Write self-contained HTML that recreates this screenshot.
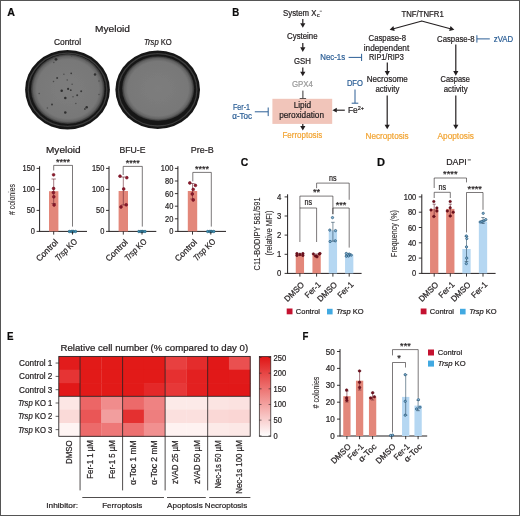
<!DOCTYPE html>
<html><head><meta charset="utf-8"><title>Figure</title>
<style>
html,body{margin:0;padding:0;background:#fff;}
svg{display:block;will-change:transform;font-family:"Liberation Sans",sans-serif;fill:#231F20;}
text{stroke-width:0.22px;stroke:#231F20;}
text[fill="#2C5F96"]{stroke:#2C5F96}text[fill="#F2A535"]{stroke:#F2A535}text[fill="#9A9A9A"]{stroke:#9A9A9A}
</style></head><body>
<svg width="520" height="516" viewBox="0 0 520 516">
<rect x="0.5" y="0.5" width="519" height="515" fill="#fff" stroke="#555" stroke-width="1"/>
<text x="7.30" y="16.00" font-size="10.9" fill="#0A0A0A" textLength="7.70" lengthAdjust="spacingAndGlyphs" font-weight="bold">A</text>
<text x="112.50" y="32.00" font-size="9.5" text-anchor="middle" textLength="35.00" lengthAdjust="spacingAndGlyphs">Myeloid</text>
<text x="67.50" y="44.80" font-size="8.8" text-anchor="middle" textLength="27.00" lengthAdjust="spacingAndGlyphs">Control</text>
<text x="157.9" y="44.8" font-size="8.8" text-anchor="middle" textLength="27.8" lengthAdjust="spacingAndGlyphs"><tspan font-style="italic">Trsp</tspan> KO</text>
<defs>
<radialGradient id="dg" cx="50%" cy="50%" r="50%"><stop offset="0" stop-color="#7d7d7d"/><stop offset="0.84" stop-color="#787878"/><stop offset="0.93" stop-color="#646464"/><stop offset="1" stop-color="#303030"/></radialGradient>
<filter id="bl" x="-10%" y="-10%" width="120%" height="120%"><feGaussianBlur stdDeviation="0.45"/></filter>
</defs>
<g filter="url(#bl)">
<ellipse cx="67.5" cy="89.8" rx="42.4" ry="39.7" fill="#171717"/>
<ellipse cx="67.5" cy="89.8" rx="39.3" ry="36.6" fill="none" stroke="#3c3c3c" stroke-width="1.3"/>
<ellipse cx="67.8" cy="89.0" rx="36.9" ry="35.0" fill="url(#dg)"/>
<circle cx="56" cy="59.3" r="1.38" fill="#2a2a2a"/>
<circle cx="71.6" cy="56" r="0.75" fill="#4c4c4c"/>
<circle cx="53.8" cy="62.4" r="0.75" fill="#4c4c4c"/>
<circle cx="86.7" cy="60.5" r="0.75" fill="#4c4c4c"/>
<circle cx="95" cy="74.6" r="1.25" fill="#333"/>
<circle cx="99" cy="81" r="0.75" fill="#4c4c4c"/>
<circle cx="71.2" cy="73.3" r="0.88" fill="#3a3a3a"/>
<circle cx="63.9" cy="74.3" r="0.75" fill="#4c4c4c"/>
<circle cx="57.1" cy="77.9" r="1.0" fill="#3a3a3a"/>
<circle cx="53.5" cy="81.6" r="0.75" fill="#4c4c4c"/>
<circle cx="67.2" cy="80.1" r="0.75" fill="#4c4c4c"/>
<circle cx="72.1" cy="84.3" r="0.75" fill="#4c4c4c"/>
<circle cx="61.7" cy="90.7" r="1.25" fill="#2e2e2e"/>
<circle cx="68.1" cy="88.9" r="1.12" fill="#333"/>
<circle cx="70.8" cy="90.2" r="0.88" fill="#3a3a3a"/>
<circle cx="81.2" cy="91.3" r="1.0" fill="#3a3a3a"/>
<circle cx="77.2" cy="95.3" r="1.0" fill="#3a3a3a"/>
<circle cx="73" cy="96.7" r="0.75" fill="#4c4c4c"/>
<circle cx="65.3" cy="98" r="1.25" fill="#2e2e2e"/>
<circle cx="39.2" cy="93.4" r="0.75" fill="#4c4c4c"/>
<circle cx="99" cy="94.4" r="0.75" fill="#4c4c4c"/>
<circle cx="52" cy="104.4" r="1.0" fill="#3a3a3a"/>
<circle cx="86.7" cy="107.2" r="1.25" fill="#2e2e2e"/>
<circle cx="84.9" cy="109" r="0.88" fill="#3a3a3a"/>
<circle cx="65.3" cy="112.6" r="1.25" fill="#2e2e2e"/>
<circle cx="47.4" cy="108" r="0.75" fill="#4c4c4c"/>
<circle cx="75.8" cy="103.5" r="0.75" fill="#4c4c4c"/>
</g>
<g filter="url(#bl)">
<ellipse cx="157.7" cy="89.8" rx="42.3" ry="39.3" fill="#171717"/>
<ellipse cx="157.7" cy="89.8" rx="39.199999999999996" ry="36.199999999999996" fill="none" stroke="#3c3c3c" stroke-width="1.3"/>
<ellipse cx="158.1" cy="88.6" rx="36.1" ry="32.4" fill="url(#dg)"/>
</g>
<text x="63.30" y="152.80" font-size="9.3" text-anchor="middle" textLength="34.60" lengthAdjust="spacingAndGlyphs">Myeloid</text>
<line x1="39.60" y1="166.20" x2="39.60" y2="231.90" stroke="#231F20" stroke-width="1.0"/>
<line x1="39.60" y1="231.40" x2="87.00" y2="231.40" stroke="#231F20" stroke-width="1.0"/>
<line x1="36.60" y1="168.40" x2="39.60" y2="168.40" stroke="#231F20" stroke-width="0.9"/>
<text x="35.00" y="171.45" font-size="8.6" text-anchor="end" textLength="12.45" lengthAdjust="spacingAndGlyphs">150</text>
<line x1="36.60" y1="189.40" x2="39.60" y2="189.40" stroke="#231F20" stroke-width="0.9"/>
<text x="35.00" y="192.45" font-size="8.6" text-anchor="end" textLength="12.45" lengthAdjust="spacingAndGlyphs">100</text>
<line x1="36.60" y1="210.40" x2="39.60" y2="210.40" stroke="#231F20" stroke-width="0.9"/>
<text x="35.00" y="213.45" font-size="8.6" text-anchor="end" textLength="8.30" lengthAdjust="spacingAndGlyphs">50</text>
<line x1="36.60" y1="231.40" x2="39.60" y2="231.40" stroke="#231F20" stroke-width="0.9"/>
<text x="35.00" y="234.45" font-size="8.6" text-anchor="end" textLength="4.15" lengthAdjust="spacingAndGlyphs">0</text>
<rect x="49.00" y="191.20" width="9.40" height="40.20" fill="#E3877A"/>
<line x1="53.70" y1="179.00" x2="53.70" y2="203.50" stroke="#6A2530" stroke-width="0.6"/>
<line x1="51.50" y1="179.00" x2="55.90" y2="179.00" stroke="#6A2530" stroke-width="0.6"/>
<line x1="51.50" y1="203.50" x2="55.90" y2="203.50" stroke="#6A2530" stroke-width="0.6"/>
<circle cx="53.60" cy="174.80" r="1.4" fill="#8E1A2C" stroke="#6E0F20" stroke-width="0.6"/>
<circle cx="53.60" cy="188.50" r="1.4" fill="#8E1A2C" stroke="#6E0F20" stroke-width="0.6"/>
<circle cx="53.40" cy="192.60" r="1.4" fill="#8E1A2C" stroke="#6E0F20" stroke-width="0.6"/>
<circle cx="53.80" cy="196.80" r="1.4" fill="#8E1A2C" stroke="#6E0F20" stroke-width="0.6"/>
<circle cx="54.10" cy="205.00" r="1.4" fill="#8E1A2C" stroke="#6E0F20" stroke-width="0.6"/>
<circle cx="69.40" cy="231.50" r="1.25" fill="#3E94BA" stroke="#1F566F" stroke-width="0.6"/>
<circle cx="71.40" cy="231.50" r="1.25" fill="#3E94BA" stroke="#1F566F" stroke-width="0.6"/>
<circle cx="73.40" cy="231.50" r="1.25" fill="#3E94BA" stroke="#1F566F" stroke-width="0.6"/>
<circle cx="75.50" cy="231.50" r="1.25" fill="#3E94BA" stroke="#1F566F" stroke-width="0.6"/>
<circle cx="72.50" cy="231.50" r="1.25" fill="#3E94BA" stroke="#1F566F" stroke-width="0.6"/>
<line x1="53.70" y1="231.40" x2="53.70" y2="234.60" stroke="#231F20" stroke-width="0.9"/>
<line x1="72.50" y1="231.40" x2="72.50" y2="234.60" stroke="#231F20" stroke-width="0.9"/>
<path d="M53.70,170.50 V165.40 H72.50 V226.60" stroke="#231F20" stroke-width="0.6" fill="none"/>
<text x="63.10" y="164.60" font-size="9.5" text-anchor="middle" textLength="14.00" lengthAdjust="spacingAndGlyphs">****</text>
<text x="58.70" y="242.80" font-size="8.6" text-anchor="end" textLength="27.20" lengthAdjust="spacingAndGlyphs" transform="rotate(-45 58.70 242.80)">Control</text>
<text x="77.80" y="242.00" font-size="8.6" text-anchor="end" transform="rotate(-45 77.80 242.00)" textLength="27.4" lengthAdjust="spacingAndGlyphs"><tspan font-style="italic">Trsp</tspan> KO</text>
<text x="132.50" y="152.80" font-size="9.3" text-anchor="middle" textLength="26.00" lengthAdjust="spacingAndGlyphs">BFU-E</text>
<line x1="109.00" y1="166.20" x2="109.00" y2="231.90" stroke="#231F20" stroke-width="1.0"/>
<line x1="109.00" y1="231.40" x2="156.30" y2="231.40" stroke="#231F20" stroke-width="1.0"/>
<line x1="106.00" y1="168.40" x2="109.00" y2="168.40" stroke="#231F20" stroke-width="0.9"/>
<text x="104.40" y="171.45" font-size="8.6" text-anchor="end" textLength="12.45" lengthAdjust="spacingAndGlyphs">150</text>
<line x1="106.00" y1="189.40" x2="109.00" y2="189.40" stroke="#231F20" stroke-width="0.9"/>
<text x="104.40" y="192.45" font-size="8.6" text-anchor="end" textLength="12.45" lengthAdjust="spacingAndGlyphs">100</text>
<line x1="106.00" y1="210.40" x2="109.00" y2="210.40" stroke="#231F20" stroke-width="0.9"/>
<text x="104.40" y="213.45" font-size="8.6" text-anchor="end" textLength="8.30" lengthAdjust="spacingAndGlyphs">50</text>
<line x1="106.00" y1="231.40" x2="109.00" y2="231.40" stroke="#231F20" stroke-width="0.9"/>
<text x="104.40" y="234.45" font-size="8.6" text-anchor="end" textLength="4.15" lengthAdjust="spacingAndGlyphs">0</text>
<rect x="118.60" y="191.00" width="9.40" height="40.40" fill="#E3877A"/>
<line x1="123.30" y1="177.00" x2="123.30" y2="205.00" stroke="#6A2530" stroke-width="0.6"/>
<line x1="121.10" y1="177.00" x2="125.50" y2="177.00" stroke="#6A2530" stroke-width="0.6"/>
<line x1="121.10" y1="205.00" x2="125.50" y2="205.00" stroke="#6A2530" stroke-width="0.6"/>
<circle cx="120.00" cy="176.20" r="1.4" fill="#8E1A2C" stroke="#6E0F20" stroke-width="0.6"/>
<circle cx="126.80" cy="177.70" r="1.4" fill="#8E1A2C" stroke="#6E0F20" stroke-width="0.6"/>
<circle cx="123.70" cy="189.00" r="1.4" fill="#8E1A2C" stroke="#6E0F20" stroke-width="0.6"/>
<circle cx="121.00" cy="207.00" r="1.4" fill="#8E1A2C" stroke="#6E0F20" stroke-width="0.6"/>
<circle cx="126.20" cy="204.80" r="1.4" fill="#8E1A2C" stroke="#6E0F20" stroke-width="0.6"/>
<circle cx="138.90" cy="231.50" r="1.25" fill="#3E94BA" stroke="#1F566F" stroke-width="0.6"/>
<circle cx="140.90" cy="231.50" r="1.25" fill="#3E94BA" stroke="#1F566F" stroke-width="0.6"/>
<circle cx="142.90" cy="231.50" r="1.25" fill="#3E94BA" stroke="#1F566F" stroke-width="0.6"/>
<circle cx="145.00" cy="231.50" r="1.25" fill="#3E94BA" stroke="#1F566F" stroke-width="0.6"/>
<circle cx="142.00" cy="231.50" r="1.25" fill="#3E94BA" stroke="#1F566F" stroke-width="0.6"/>
<line x1="123.30" y1="231.40" x2="123.30" y2="234.60" stroke="#231F20" stroke-width="0.9"/>
<line x1="142.00" y1="231.40" x2="142.00" y2="234.60" stroke="#231F20" stroke-width="0.9"/>
<path d="M123.20,175.00 V166.40 H142.30 V226.60" stroke="#231F20" stroke-width="0.6" fill="none"/>
<text x="132.75" y="165.60" font-size="9.5" text-anchor="middle" textLength="14.00" lengthAdjust="spacingAndGlyphs">****</text>
<text x="128.30" y="242.80" font-size="8.6" text-anchor="end" textLength="27.20" lengthAdjust="spacingAndGlyphs" transform="rotate(-45 128.30 242.80)">Control</text>
<text x="147.30" y="242.00" font-size="8.6" text-anchor="end" transform="rotate(-45 147.30 242.00)" textLength="27.4" lengthAdjust="spacingAndGlyphs"><tspan font-style="italic">Trsp</tspan> KO</text>
<text x="202.30" y="152.80" font-size="9.3" text-anchor="middle" textLength="23.00" lengthAdjust="spacingAndGlyphs">Pre-B</text>
<line x1="177.90" y1="166.20" x2="177.90" y2="231.90" stroke="#231F20" stroke-width="1.0"/>
<line x1="177.90" y1="231.40" x2="226.00" y2="231.40" stroke="#231F20" stroke-width="1.0"/>
<line x1="174.90" y1="168.40" x2="177.90" y2="168.40" stroke="#231F20" stroke-width="0.9"/>
<text x="173.30" y="171.45" font-size="8.6" text-anchor="end" textLength="12.45" lengthAdjust="spacingAndGlyphs">100</text>
<line x1="174.90" y1="181.00" x2="177.90" y2="181.00" stroke="#231F20" stroke-width="0.9"/>
<text x="173.30" y="184.05" font-size="8.6" text-anchor="end" textLength="8.30" lengthAdjust="spacingAndGlyphs">80</text>
<line x1="174.90" y1="193.60" x2="177.90" y2="193.60" stroke="#231F20" stroke-width="0.9"/>
<text x="173.30" y="196.65" font-size="8.6" text-anchor="end" textLength="8.30" lengthAdjust="spacingAndGlyphs">60</text>
<line x1="174.90" y1="206.20" x2="177.90" y2="206.20" stroke="#231F20" stroke-width="0.9"/>
<text x="173.30" y="209.25" font-size="8.6" text-anchor="end" textLength="8.30" lengthAdjust="spacingAndGlyphs">40</text>
<line x1="174.90" y1="218.80" x2="177.90" y2="218.80" stroke="#231F20" stroke-width="0.9"/>
<text x="173.30" y="221.85" font-size="8.6" text-anchor="end" textLength="8.30" lengthAdjust="spacingAndGlyphs">20</text>
<line x1="174.90" y1="231.40" x2="177.90" y2="231.40" stroke="#231F20" stroke-width="0.9"/>
<text x="173.30" y="234.45" font-size="8.6" text-anchor="end" textLength="4.15" lengthAdjust="spacingAndGlyphs">0</text>
<rect x="187.80" y="191.00" width="9.40" height="40.40" fill="#E3877A"/>
<line x1="192.50" y1="183.50" x2="192.50" y2="199.00" stroke="#6A2530" stroke-width="0.6"/>
<line x1="190.30" y1="183.50" x2="194.70" y2="183.50" stroke="#6A2530" stroke-width="0.6"/>
<line x1="190.30" y1="199.00" x2="194.70" y2="199.00" stroke="#6A2530" stroke-width="0.6"/>
<circle cx="189.80" cy="183.00" r="1.4" fill="#8E1A2C" stroke="#6E0F20" stroke-width="0.6"/>
<circle cx="195.40" cy="185.40" r="1.4" fill="#8E1A2C" stroke="#6E0F20" stroke-width="0.6"/>
<circle cx="193.20" cy="189.40" r="1.4" fill="#8E1A2C" stroke="#6E0F20" stroke-width="0.6"/>
<circle cx="192.30" cy="194.00" r="1.4" fill="#8E1A2C" stroke="#6E0F20" stroke-width="0.6"/>
<circle cx="193.20" cy="200.00" r="1.4" fill="#8E1A2C" stroke="#6E0F20" stroke-width="0.6"/>
<circle cx="207.70" cy="231.50" r="1.25" fill="#3E94BA" stroke="#1F566F" stroke-width="0.6"/>
<circle cx="209.70" cy="231.50" r="1.25" fill="#3E94BA" stroke="#1F566F" stroke-width="0.6"/>
<circle cx="211.70" cy="231.50" r="1.25" fill="#3E94BA" stroke="#1F566F" stroke-width="0.6"/>
<circle cx="213.80" cy="231.50" r="1.25" fill="#3E94BA" stroke="#1F566F" stroke-width="0.6"/>
<circle cx="210.80" cy="231.50" r="1.25" fill="#3E94BA" stroke="#1F566F" stroke-width="0.6"/>
<line x1="192.50" y1="231.40" x2="192.50" y2="234.60" stroke="#231F20" stroke-width="0.9"/>
<line x1="210.80" y1="231.40" x2="210.80" y2="234.60" stroke="#231F20" stroke-width="0.9"/>
<path d="M192.80,181.40 V172.40 H211.30 V226.60" stroke="#231F20" stroke-width="0.6" fill="none"/>
<text x="202.05" y="171.60" font-size="9.5" text-anchor="middle" textLength="14.00" lengthAdjust="spacingAndGlyphs">****</text>
<text x="197.50" y="242.80" font-size="8.6" text-anchor="end" textLength="27.20" lengthAdjust="spacingAndGlyphs" transform="rotate(-45 197.50 242.80)">Control</text>
<text x="216.10" y="242.00" font-size="8.6" text-anchor="end" transform="rotate(-45 216.10 242.00)" textLength="27.4" lengthAdjust="spacingAndGlyphs"><tspan font-style="italic">Trsp</tspan> KO</text>
<text x="15.20" y="199.50" font-size="8.5" text-anchor="middle" fill="#2B2728" textLength="31.00" lengthAdjust="spacingAndGlyphs" transform="rotate(-90 15.20 199.50)" style="stroke:#2B2728;stroke-width:0.1px"># colonies</text>
<text x="232.20" y="16.00" font-size="10.9" fill="#0A0A0A" textLength="7.00" lengthAdjust="spacingAndGlyphs" font-weight="bold">B</text>
<text x="283.10" y="15.60" font-size="8.4" textLength="33.40" lengthAdjust="spacingAndGlyphs">System X</text>
<text x="316.90" y="17.40" font-size="5.6" textLength="2.60" lengthAdjust="spacingAndGlyphs">c</text>
<line x1="319.70" y1="11.20" x2="321.90" y2="11.20" stroke="#231F20" stroke-width="0.6"/>
<line x1="302.80" y1="18.90" x2="302.80" y2="23.70" stroke="#231F20" stroke-width="1.2"/>
<polygon points="302.80,27.80 300.20,23.20 305.40,23.20" fill="#231F20"/>
<text x="302.30" y="39.30" font-size="8.4" text-anchor="middle" textLength="30.50" lengthAdjust="spacingAndGlyphs">Cysteine</text>
<line x1="302.80" y1="43.00" x2="302.80" y2="47.80" stroke="#231F20" stroke-width="1.2"/>
<polygon points="302.80,51.90 300.20,47.30 305.40,47.30" fill="#231F20"/>
<text x="302.40" y="63.50" font-size="8.4" text-anchor="middle" textLength="16.80" lengthAdjust="spacingAndGlyphs">GSH</text>
<line x1="302.80" y1="67.40" x2="302.80" y2="72.20" stroke="#231F20" stroke-width="1.2"/>
<polygon points="302.80,76.30 300.20,71.70 305.40,71.70" fill="#231F20"/>
<text x="302.50" y="87.30" font-size="8.4" text-anchor="middle" fill="#9A9A9A" textLength="21.00" lengthAdjust="spacingAndGlyphs">GPX4</text>
<line x1="302.90" y1="90.60" x2="302.90" y2="98.50" stroke="#231F20" stroke-width="0.9"/>
<line x1="299.70" y1="98.50" x2="306.10" y2="98.50" stroke="#231F20" stroke-width="0.9"/>
<rect x="272.40" y="98.80" width="59.80" height="25.10" fill="#F1C5BA"/>
<text x="302.40" y="108.20" font-size="8.4" text-anchor="middle" textLength="17.50" lengthAdjust="spacingAndGlyphs">Lipid</text>
<text x="301.60" y="118.40" font-size="8.4" text-anchor="middle" textLength="44.80" lengthAdjust="spacingAndGlyphs">peroxidation</text>
<line x1="302.80" y1="123.90" x2="302.80" y2="126.50" stroke="#231F20" stroke-width="1.2"/>
<polygon points="302.80,130.60 300.20,126.00 305.40,126.00" fill="#231F20"/>
<text x="302.40" y="138.10" font-size="8.4" text-anchor="middle" fill="#F2A535" textLength="39.80" lengthAdjust="spacingAndGlyphs">Ferroptosis</text>
<text x="241.50" y="110.10" font-size="8.4" text-anchor="middle" fill="#2C5F96" textLength="17.00" lengthAdjust="spacingAndGlyphs">Fer-1</text>
<text x="242.20" y="119.40" font-size="8.4" text-anchor="middle" fill="#2C5F96" textLength="19.80" lengthAdjust="spacingAndGlyphs">α-Toc</text>
<line x1="254.80" y1="111.80" x2="268.20" y2="111.80" stroke="#2C5F96" stroke-width="1.0"/>
<line x1="268.20" y1="107.50" x2="268.20" y2="116.10" stroke="#2C5F96" stroke-width="1.0"/>
<text x="320.30" y="59.70" font-size="8.4" fill="#2C5F96" textLength="24.80" lengthAdjust="spacingAndGlyphs">Nec-1s</text>
<line x1="348.60" y1="57.40" x2="361.60" y2="57.40" stroke="#2C5F96" stroke-width="1.0"/>
<line x1="361.60" y1="53.80" x2="361.60" y2="61.00" stroke="#2C5F96" stroke-width="1.0"/>
<text x="354.90" y="86.20" font-size="8.4" text-anchor="middle" fill="#2C5F96" textLength="16.00" lengthAdjust="spacingAndGlyphs">DFO</text>
<line x1="355.00" y1="89.50" x2="355.00" y2="103.20" stroke="#2C5F96" stroke-width="1.0"/>
<line x1="351.70" y1="103.20" x2="358.30" y2="103.20" stroke="#2C5F96" stroke-width="1.0"/>
<text x="347.9" y="113.2" font-size="8.4">Fe<tspan font-size="5.5" dy="-3">2+</tspan></text>
<line x1="344.80" y1="110.20" x2="336.30" y2="110.20" stroke="#231F20" stroke-width="1.15"/>
<polygon points="332.40,110.20 336.80,107.80 336.80,112.60" fill="#231F20"/>
<text x="422.60" y="17.40" font-size="8.4" text-anchor="middle" textLength="42.20" lengthAdjust="spacingAndGlyphs">TNF/TNFR1</text>
<line x1="422.00" y1="21.00" x2="393.56" y2="28.73" stroke="#231F20" stroke-width="1.15"/>
<polygon points="389.60,29.80 393.36,26.09 394.72,31.10" fill="#231F20"/>
<line x1="421.60" y1="21.00" x2="450.34" y2="28.73" stroke="#231F20" stroke-width="1.15"/>
<polygon points="454.30,29.80 449.18,31.12 450.53,26.09" fill="#231F20"/>
<text x="387.30" y="41.10" font-size="8.4" text-anchor="middle" textLength="37.40" lengthAdjust="spacingAndGlyphs">Caspase-8</text>
<text x="386.50" y="50.70" font-size="8.4" text-anchor="middle" textLength="45.50" lengthAdjust="spacingAndGlyphs">independent</text>
<text x="386.40" y="59.80" font-size="8.4" text-anchor="middle" textLength="34.70" lengthAdjust="spacingAndGlyphs">RIP1/RIP3</text>
<line x1="387.30" y1="62.50" x2="387.30" y2="71.60" stroke="#231F20" stroke-width="1.2"/>
<polygon points="387.30,75.70 384.70,71.10 389.90,71.10" fill="#231F20"/>
<text x="387.30" y="82.20" font-size="8.4" text-anchor="middle" textLength="40.90" lengthAdjust="spacingAndGlyphs">Necrosome</text>
<text x="387.40" y="92.40" font-size="8.4" text-anchor="middle" textLength="24.00" lengthAdjust="spacingAndGlyphs">activity</text>
<line x1="387.20" y1="95.60" x2="387.20" y2="125.20" stroke="#231F20" stroke-width="1.2"/>
<polygon points="387.20,129.30 384.60,124.70 389.80,124.70" fill="#231F20"/>
<text x="387.10" y="138.70" font-size="8.4" text-anchor="middle" fill="#F2A535" textLength="43.10" lengthAdjust="spacingAndGlyphs">Necroptosis</text>
<text x="455.80" y="41.50" font-size="8.4" text-anchor="middle" textLength="37.50" lengthAdjust="spacingAndGlyphs">Caspase-8</text>
<line x1="489.80" y1="38.90" x2="476.90" y2="38.90" stroke="#2C5F96" stroke-width="1.0"/>
<line x1="476.90" y1="35.20" x2="476.90" y2="42.60" stroke="#2C5F96" stroke-width="1.0"/>
<text x="493.80" y="41.50" font-size="8.4" fill="#2C5F96" textLength="19.40" lengthAdjust="spacingAndGlyphs">zVAD</text>
<line x1="455.80" y1="44.60" x2="455.80" y2="71.60" stroke="#231F20" stroke-width="1.2"/>
<polygon points="455.80,75.70 453.20,71.10 458.40,71.10" fill="#231F20"/>
<text x="455.30" y="82.20" font-size="8.4" text-anchor="middle" textLength="29.40" lengthAdjust="spacingAndGlyphs">Caspase</text>
<text x="455.70" y="92.40" font-size="8.4" text-anchor="middle" textLength="24.00" lengthAdjust="spacingAndGlyphs">activity</text>
<line x1="455.80" y1="95.60" x2="455.80" y2="125.20" stroke="#231F20" stroke-width="1.2"/>
<polygon points="455.80,129.30 453.20,124.70 458.40,124.70" fill="#231F20"/>
<text x="455.70" y="138.70" font-size="8.4" text-anchor="middle" fill="#F2A535" textLength="36.30" lengthAdjust="spacingAndGlyphs">Apoptosis</text>
<text x="240.80" y="166.30" font-size="10.9" fill="#0A0A0A" textLength="7.50" lengthAdjust="spacingAndGlyphs" font-weight="bold">C</text>
<line x1="287.60" y1="194.30" x2="287.60" y2="273.90" stroke="#231F20" stroke-width="1.0"/>
<line x1="287.60" y1="273.40" x2="361.60" y2="273.40" stroke="#231F20" stroke-width="1.0"/>
<line x1="284.60" y1="196.90" x2="287.60" y2="196.90" stroke="#231F20" stroke-width="0.9"/>
<text x="281.40" y="199.95" font-size="8.6" text-anchor="end" textLength="4.30" lengthAdjust="spacingAndGlyphs">4</text>
<line x1="284.60" y1="216.00" x2="287.60" y2="216.00" stroke="#231F20" stroke-width="0.9"/>
<text x="281.40" y="219.05" font-size="8.6" text-anchor="end" textLength="4.30" lengthAdjust="spacingAndGlyphs">3</text>
<line x1="284.60" y1="235.10" x2="287.60" y2="235.10" stroke="#231F20" stroke-width="0.9"/>
<text x="281.40" y="238.15" font-size="8.6" text-anchor="end" textLength="4.30" lengthAdjust="spacingAndGlyphs">2</text>
<line x1="284.60" y1="254.30" x2="287.60" y2="254.30" stroke="#231F20" stroke-width="0.9"/>
<text x="281.40" y="257.35" font-size="8.6" text-anchor="end" textLength="4.30" lengthAdjust="spacingAndGlyphs">1</text>
<line x1="284.60" y1="273.40" x2="287.60" y2="273.40" stroke="#231F20" stroke-width="0.9"/>
<text x="281.40" y="276.45" font-size="8.6" text-anchor="end" textLength="4.30" lengthAdjust="spacingAndGlyphs">0</text>
<rect x="295.75" y="254.30" width="8.30" height="19.10" fill="#E3877A"/>
<line x1="299.90" y1="273.40" x2="299.90" y2="276.60" stroke="#231F20" stroke-width="0.9"/>
<rect x="312.45" y="254.90" width="8.30" height="18.50" fill="#E3877A"/>
<line x1="316.60" y1="273.40" x2="316.60" y2="276.60" stroke="#231F20" stroke-width="0.9"/>
<rect x="328.75" y="230.50" width="8.30" height="42.90" fill="#B5D7F2"/>
<line x1="332.90" y1="273.40" x2="332.90" y2="276.60" stroke="#231F20" stroke-width="0.9"/>
<rect x="345.05" y="254.50" width="8.30" height="18.90" fill="#B5D7F2"/>
<line x1="349.20" y1="273.40" x2="349.20" y2="276.60" stroke="#231F20" stroke-width="0.9"/>
<line x1="299.90" y1="253.30" x2="299.90" y2="255.30" stroke="#6A2530" stroke-width="0.6"/>
<line x1="298.30" y1="253.30" x2="301.50" y2="253.30" stroke="#6A2530" stroke-width="0.6"/>
<line x1="298.30" y1="255.30" x2="301.50" y2="255.30" stroke="#6A2530" stroke-width="0.6"/>
<line x1="316.60" y1="254.00" x2="316.60" y2="256.00" stroke="#6A2530" stroke-width="0.6"/>
<line x1="315.00" y1="254.00" x2="318.20" y2="254.00" stroke="#6A2530" stroke-width="0.6"/>
<line x1="315.00" y1="256.00" x2="318.20" y2="256.00" stroke="#6A2530" stroke-width="0.6"/>
<circle cx="296.90" cy="253.60" r="1.25" fill="#74101E" stroke="#540A14" stroke-width="0.5"/>
<circle cx="296.90" cy="255.40" r="1.25" fill="#74101E" stroke="#540A14" stroke-width="0.5"/>
<circle cx="299.90" cy="254.50" r="1.25" fill="#74101E" stroke="#540A14" stroke-width="0.5"/>
<circle cx="302.90" cy="253.60" r="1.25" fill="#74101E" stroke="#540A14" stroke-width="0.5"/>
<circle cx="302.90" cy="255.40" r="1.25" fill="#74101E" stroke="#540A14" stroke-width="0.5"/>
<circle cx="313.40" cy="253.90" r="1.25" fill="#74101E" stroke="#540A14" stroke-width="0.5"/>
<circle cx="315.40" cy="255.90" r="1.25" fill="#74101E" stroke="#540A14" stroke-width="0.5"/>
<circle cx="317.00" cy="256.80" r="1.25" fill="#74101E" stroke="#540A14" stroke-width="0.5"/>
<circle cx="319.20" cy="254.10" r="1.25" fill="#74101E" stroke="#540A14" stroke-width="0.5"/>
<circle cx="320.00" cy="253.50" r="1.25" fill="#74101E" stroke="#540A14" stroke-width="0.5"/>
<line x1="332.90" y1="222.30" x2="332.90" y2="241.20" stroke="#2A4A60" stroke-width="0.6"/>
<line x1="331.10" y1="222.30" x2="334.70" y2="222.30" stroke="#2A4A60" stroke-width="0.6"/>
<line x1="331.10" y1="241.20" x2="334.70" y2="241.20" stroke="#2A4A60" stroke-width="0.6"/>
<circle cx="332.50" cy="217.60" r="1.15" fill="#86B6D8" stroke="#1E4F70" stroke-width="0.7"/>
<circle cx="329.80" cy="230.10" r="1.15" fill="#86B6D8" stroke="#1E4F70" stroke-width="0.7"/>
<circle cx="335.50" cy="230.60" r="1.15" fill="#86B6D8" stroke="#1E4F70" stroke-width="0.7"/>
<circle cx="330.10" cy="241.50" r="1.15" fill="#86B6D8" stroke="#1E4F70" stroke-width="0.7"/>
<circle cx="335.30" cy="240.80" r="1.15" fill="#86B6D8" stroke="#1E4F70" stroke-width="0.7"/>
<line x1="349.20" y1="253.60" x2="349.20" y2="255.60" stroke="#2A4A60" stroke-width="0.6"/>
<line x1="347.60" y1="253.60" x2="350.80" y2="253.60" stroke="#2A4A60" stroke-width="0.6"/>
<line x1="347.60" y1="255.60" x2="350.80" y2="255.60" stroke="#2A4A60" stroke-width="0.6"/>
<circle cx="346.30" cy="253.50" r="1.15" fill="#86B6D8" stroke="#1E4F70" stroke-width="0.7"/>
<circle cx="346.30" cy="256.20" r="1.15" fill="#86B6D8" stroke="#1E4F70" stroke-width="0.7"/>
<circle cx="349.20" cy="254.10" r="1.15" fill="#86B6D8" stroke="#1E4F70" stroke-width="0.7"/>
<circle cx="351.20" cy="255.10" r="1.15" fill="#86B6D8" stroke="#1E4F70" stroke-width="0.7"/>
<circle cx="348.50" cy="256.00" r="1.15" fill="#86B6D8" stroke="#1E4F70" stroke-width="0.7"/>
<path d="M299.90,242.00 V208.00 H316.60 V242.00" stroke="#231F20" stroke-width="0.6" fill="none"/>
<text x="308.25" y="205.00" font-size="8.6" text-anchor="middle" textLength="7.60" lengthAdjust="spacingAndGlyphs">ns</text>
<path d="M299.90,208.00 V196.10 H332.90 V214.20" stroke="#231F20" stroke-width="0.6" fill="none"/>
<text x="316.60" y="195.40" font-size="9.5" text-anchor="middle" textLength="7.20" lengthAdjust="spacingAndGlyphs">**</text>
<path d="M332.90,214.20 V208.00 H349.20 V247.60" stroke="#231F20" stroke-width="0.6" fill="none"/>
<text x="341.05" y="207.70" font-size="9.5" text-anchor="middle" textLength="10.60" lengthAdjust="spacingAndGlyphs">***</text>
<path d="M316.60,188.20 V183.10 H349.20 V199.80" stroke="#231F20" stroke-width="0.6" fill="none"/>
<text x="332.90" y="180.50" font-size="8.6" text-anchor="middle" textLength="7.60" lengthAdjust="spacingAndGlyphs">ns</text>
<text x="259.70" y="233.90" font-size="8.3" text-anchor="middle" fill="#2B2728" textLength="73.00" lengthAdjust="spacingAndGlyphs" transform="rotate(-90 259.70 233.90)" style="stroke:#2B2728;stroke-width:0.1px">C11-BODIPY 581/591</text>
<text x="271.70" y="233.00" font-size="8.3" text-anchor="middle" fill="#2B2728" textLength="45.00" lengthAdjust="spacingAndGlyphs" transform="rotate(-90 271.70 233.00)" style="stroke:#2B2728;stroke-width:0.1px">(relative MFI)</text>
<text x="304.70" y="285.20" font-size="8.3" text-anchor="end" textLength="24.20" lengthAdjust="spacingAndGlyphs" transform="rotate(-45 304.70 285.20)">DMSO</text>
<text x="321.40" y="285.20" font-size="8.3" text-anchor="end" textLength="18.80" lengthAdjust="spacingAndGlyphs" transform="rotate(-45 321.40 285.20)">Fer-1</text>
<text x="337.70" y="285.20" font-size="8.3" text-anchor="end" textLength="24.20" lengthAdjust="spacingAndGlyphs" transform="rotate(-45 337.70 285.20)">DMSO</text>
<text x="354.00" y="285.20" font-size="8.3" text-anchor="end" textLength="18.80" lengthAdjust="spacingAndGlyphs" transform="rotate(-45 354.00 285.20)">Fer-1</text>
<rect x="286.70" y="308.50" width="5.80" height="5.80" fill="#C41230"/>
<text x="295.80" y="313.80" font-size="7.6" textLength="24.20" lengthAdjust="spacingAndGlyphs">Control</text>
<rect x="327.00" y="308.80" width="5.60" height="5.60" fill="#41A9E1"/>
<text x="336.30" y="313.80" font-size="7.6" textLength="27.3" lengthAdjust="spacingAndGlyphs"><tspan font-style="italic">Trsp</tspan> KO</text>
<text x="377.00" y="166.30" font-size="10.9" fill="#0A0A0A" textLength="8.00" lengthAdjust="spacingAndGlyphs" font-weight="bold">D</text>
<text x="446.2" y="164.9" font-size="9.3" textLength="20.6" lengthAdjust="spacingAndGlyphs">DAPI</text><line x1="467.7" y1="159.9" x2="470.9" y2="159.9" stroke="#231F20" stroke-width="0.8"/>
<line x1="421.80" y1="194.30" x2="421.80" y2="273.90" stroke="#231F20" stroke-width="1.0"/>
<line x1="421.80" y1="273.40" x2="495.60" y2="273.40" stroke="#231F20" stroke-width="1.0"/>
<line x1="418.80" y1="196.90" x2="421.80" y2="196.90" stroke="#231F20" stroke-width="0.9"/>
<text x="416.20" y="199.95" font-size="8.6" text-anchor="end" textLength="12.45" lengthAdjust="spacingAndGlyphs">100</text>
<line x1="418.80" y1="212.20" x2="421.80" y2="212.20" stroke="#231F20" stroke-width="0.9"/>
<text x="416.20" y="215.25" font-size="8.6" text-anchor="end" textLength="8.30" lengthAdjust="spacingAndGlyphs">80</text>
<line x1="418.80" y1="227.50" x2="421.80" y2="227.50" stroke="#231F20" stroke-width="0.9"/>
<text x="416.20" y="230.55" font-size="8.6" text-anchor="end" textLength="8.30" lengthAdjust="spacingAndGlyphs">60</text>
<line x1="418.80" y1="242.80" x2="421.80" y2="242.80" stroke="#231F20" stroke-width="0.9"/>
<text x="416.20" y="245.85" font-size="8.6" text-anchor="end" textLength="8.30" lengthAdjust="spacingAndGlyphs">40</text>
<line x1="418.80" y1="258.10" x2="421.80" y2="258.10" stroke="#231F20" stroke-width="0.9"/>
<text x="416.20" y="261.15" font-size="8.6" text-anchor="end" textLength="8.30" lengthAdjust="spacingAndGlyphs">20</text>
<line x1="418.80" y1="273.40" x2="421.80" y2="273.40" stroke="#231F20" stroke-width="0.9"/>
<text x="416.20" y="276.45" font-size="8.6" text-anchor="end" textLength="4.15" lengthAdjust="spacingAndGlyphs">0</text>
<rect x="430.05" y="208.90" width="8.30" height="64.50" fill="#E3877A"/>
<line x1="434.20" y1="273.40" x2="434.20" y2="276.60" stroke="#231F20" stroke-width="0.9"/>
<rect x="446.15" y="208.90" width="8.30" height="64.50" fill="#E3877A"/>
<line x1="450.30" y1="273.40" x2="450.30" y2="276.60" stroke="#231F20" stroke-width="0.9"/>
<rect x="462.35" y="249.00" width="8.30" height="24.40" fill="#B5D7F2"/>
<line x1="466.50" y1="273.40" x2="466.50" y2="276.60" stroke="#231F20" stroke-width="0.9"/>
<rect x="478.85" y="221.60" width="8.30" height="51.80" fill="#B5D7F2"/>
<line x1="483.00" y1="273.40" x2="483.00" y2="276.60" stroke="#231F20" stroke-width="0.9"/>
<line x1="434.20" y1="204.20" x2="434.20" y2="216.50" stroke="#6A2530" stroke-width="0.6"/>
<line x1="432.60" y1="204.20" x2="435.80" y2="204.20" stroke="#6A2530" stroke-width="0.6"/>
<line x1="432.60" y1="216.50" x2="435.80" y2="216.50" stroke="#6A2530" stroke-width="0.6"/>
<line x1="450.30" y1="204.20" x2="450.30" y2="216.00" stroke="#6A2530" stroke-width="0.6"/>
<line x1="448.70" y1="204.20" x2="451.90" y2="204.20" stroke="#6A2530" stroke-width="0.6"/>
<line x1="448.70" y1="216.00" x2="451.90" y2="216.00" stroke="#6A2530" stroke-width="0.6"/>
<circle cx="433.80" cy="201.50" r="1.25" fill="#74101E" stroke="#540A14" stroke-width="0.5"/>
<circle cx="431.00" cy="210.00" r="1.25" fill="#74101E" stroke="#540A14" stroke-width="0.5"/>
<circle cx="436.90" cy="207.90" r="1.25" fill="#74101E" stroke="#540A14" stroke-width="0.5"/>
<circle cx="436.90" cy="211.00" r="1.25" fill="#74101E" stroke="#540A14" stroke-width="0.5"/>
<circle cx="433.80" cy="216.50" r="1.25" fill="#74101E" stroke="#540A14" stroke-width="0.5"/>
<circle cx="450.20" cy="201.50" r="1.25" fill="#74101E" stroke="#540A14" stroke-width="0.5"/>
<circle cx="450.20" cy="207.80" r="1.25" fill="#74101E" stroke="#540A14" stroke-width="0.5"/>
<circle cx="447.30" cy="211.00" r="1.25" fill="#74101E" stroke="#540A14" stroke-width="0.5"/>
<circle cx="453.20" cy="212.20" r="1.25" fill="#74101E" stroke="#540A14" stroke-width="0.5"/>
<circle cx="450.20" cy="216.00" r="1.25" fill="#74101E" stroke="#540A14" stroke-width="0.5"/>
<line x1="466.50" y1="236.50" x2="466.50" y2="261.50" stroke="#2A4A60" stroke-width="0.6"/>
<line x1="464.70" y1="236.50" x2="468.30" y2="236.50" stroke="#2A4A60" stroke-width="0.6"/>
<line x1="464.70" y1="261.50" x2="468.30" y2="261.50" stroke="#2A4A60" stroke-width="0.6"/>
<circle cx="466.30" cy="236.00" r="1.15" fill="#86B6D8" stroke="#1E4F70" stroke-width="0.7"/>
<circle cx="466.80" cy="238.60" r="1.15" fill="#86B6D8" stroke="#1E4F70" stroke-width="0.7"/>
<circle cx="466.50" cy="246.90" r="1.15" fill="#86B6D8" stroke="#1E4F70" stroke-width="0.7"/>
<circle cx="466.70" cy="258.10" r="1.15" fill="#86B6D8" stroke="#1E4F70" stroke-width="0.7"/>
<circle cx="466.30" cy="263.60" r="1.15" fill="#86B6D8" stroke="#1E4F70" stroke-width="0.7"/>
<line x1="483.00" y1="217.50" x2="483.00" y2="223.50" stroke="#2A4A60" stroke-width="0.6"/>
<line x1="481.30" y1="217.50" x2="484.70" y2="217.50" stroke="#2A4A60" stroke-width="0.6"/>
<line x1="481.30" y1="223.50" x2="484.70" y2="223.50" stroke="#2A4A60" stroke-width="0.6"/>
<circle cx="483.20" cy="213.30" r="1.15" fill="#86B6D8" stroke="#1E4F70" stroke-width="0.7"/>
<circle cx="480.20" cy="222.00" r="1.15" fill="#86B6D8" stroke="#1E4F70" stroke-width="0.7"/>
<circle cx="482.00" cy="221.40" r="1.15" fill="#86B6D8" stroke="#1E4F70" stroke-width="0.7"/>
<circle cx="484.00" cy="220.80" r="1.15" fill="#86B6D8" stroke="#1E4F70" stroke-width="0.7"/>
<circle cx="485.80" cy="219.60" r="1.15" fill="#86B6D8" stroke="#1E4F70" stroke-width="0.7"/>
<path d="M434.20,198.00 V192.30 H450.30 V198.00" stroke="#231F20" stroke-width="0.6" fill="none"/>
<text x="442.25" y="190.00" font-size="8.6" text-anchor="middle" textLength="7.60" lengthAdjust="spacingAndGlyphs">ns</text>
<path d="M434.20,188.00 V178.00 H466.50 V182.40" stroke="#231F20" stroke-width="0.6" fill="none"/>
<text x="450.30" y="176.80" font-size="9.5" text-anchor="middle" textLength="14.40" lengthAdjust="spacingAndGlyphs">****</text>
<path d="M466.50,232.40 V192.50 H483.00 V209.80" stroke="#231F20" stroke-width="0.6" fill="none"/>
<text x="474.75" y="192.00" font-size="9.5" text-anchor="middle" textLength="14.40" lengthAdjust="spacingAndGlyphs">****</text>
<text x="396.80" y="233.50" font-size="8.3" text-anchor="middle" fill="#2B2728" textLength="46.80" lengthAdjust="spacingAndGlyphs" transform="rotate(-90 396.80 233.50)" style="stroke:#2B2728;stroke-width:0.1px">Frequency (%)</text>
<text x="439.00" y="285.20" font-size="8.3" text-anchor="end" textLength="24.20" lengthAdjust="spacingAndGlyphs" transform="rotate(-45 439.00 285.20)">DMSO</text>
<text x="455.10" y="285.20" font-size="8.3" text-anchor="end" textLength="18.80" lengthAdjust="spacingAndGlyphs" transform="rotate(-45 455.10 285.20)">Fer-1</text>
<text x="471.30" y="285.20" font-size="8.3" text-anchor="end" textLength="24.20" lengthAdjust="spacingAndGlyphs" transform="rotate(-45 471.30 285.20)">DMSO</text>
<text x="487.80" y="285.20" font-size="8.3" text-anchor="end" textLength="18.80" lengthAdjust="spacingAndGlyphs" transform="rotate(-45 487.80 285.20)">Fer-1</text>
<rect x="420.70" y="308.50" width="5.80" height="5.80" fill="#C41230"/>
<text x="429.80" y="313.80" font-size="7.6" textLength="24.20" lengthAdjust="spacingAndGlyphs">Control</text>
<rect x="460.00" y="308.80" width="5.60" height="5.60" fill="#41A9E1"/>
<text x="469.30" y="313.80" font-size="7.6" textLength="27.3" lengthAdjust="spacingAndGlyphs"><tspan font-style="italic">Trsp</tspan> KO</text>
<text x="7.10" y="339.90" font-size="10.9" fill="#0A0A0A" textLength="6.50" lengthAdjust="spacingAndGlyphs" font-weight="bold">E</text>
<text x="60.50" y="351.10" font-size="9" textLength="187.60" lengthAdjust="spacingAndGlyphs">Relative cell number (% compared to day 0)</text>
<rect x="58.80" y="356.40" width="21.57" height="13.62" fill="#E21C1C"/>
<rect x="80.07" y="356.40" width="21.57" height="13.62" fill="#E21A18"/>
<rect x="101.33" y="356.40" width="21.57" height="13.62" fill="#E21A18"/>
<rect x="122.60" y="356.40" width="21.57" height="13.62" fill="#E21A18"/>
<rect x="143.87" y="356.40" width="21.57" height="13.62" fill="#E21A18"/>
<rect x="165.13" y="356.40" width="21.57" height="13.62" fill="#E84040"/>
<rect x="186.40" y="356.40" width="21.57" height="13.62" fill="#E42C2C"/>
<rect x="207.67" y="356.40" width="21.57" height="13.62" fill="#E11818"/>
<rect x="228.93" y="356.40" width="21.57" height="13.62" fill="#EA5050"/>
<rect x="58.80" y="369.72" width="21.57" height="13.62" fill="#E63434"/>
<rect x="80.07" y="369.72" width="21.57" height="13.62" fill="#E21A18"/>
<rect x="101.33" y="369.72" width="21.57" height="13.62" fill="#E21A18"/>
<rect x="122.60" y="369.72" width="21.57" height="13.62" fill="#E21A18"/>
<rect x="143.87" y="369.72" width="21.57" height="13.62" fill="#E21A18"/>
<rect x="165.13" y="369.72" width="21.57" height="13.62" fill="#E63030"/>
<rect x="186.40" y="369.72" width="21.57" height="13.62" fill="#E32020"/>
<rect x="207.67" y="369.72" width="21.57" height="13.62" fill="#E11818"/>
<rect x="228.93" y="369.72" width="21.57" height="13.62" fill="#E11A1A"/>
<rect x="58.80" y="383.03" width="21.57" height="13.62" fill="#E11818"/>
<rect x="80.07" y="383.03" width="21.57" height="13.62" fill="#E21A18"/>
<rect x="101.33" y="383.03" width="21.57" height="13.62" fill="#E21A18"/>
<rect x="122.60" y="383.03" width="21.57" height="13.62" fill="#E21A18"/>
<rect x="143.87" y="383.03" width="21.57" height="13.62" fill="#E42828"/>
<rect x="165.13" y="383.03" width="21.57" height="13.62" fill="#E73838"/>
<rect x="186.40" y="383.03" width="21.57" height="13.62" fill="#E32020"/>
<rect x="207.67" y="383.03" width="21.57" height="13.62" fill="#E11818"/>
<rect x="228.93" y="383.03" width="21.57" height="13.62" fill="#E11818"/>
<rect x="58.80" y="396.35" width="21.57" height="13.62" fill="#FCE6E4"/>
<rect x="80.07" y="396.35" width="21.57" height="13.62" fill="#EC6666"/>
<rect x="101.33" y="396.35" width="21.57" height="13.62" fill="#F08C8C"/>
<rect x="122.60" y="396.35" width="21.57" height="13.62" fill="#EC6A6A"/>
<rect x="143.87" y="396.35" width="21.57" height="13.62" fill="#EF8282"/>
<rect x="165.13" y="396.35" width="21.57" height="13.62" fill="#FCEAE8"/>
<rect x="186.40" y="396.35" width="21.57" height="13.62" fill="#FCEAE8"/>
<rect x="207.67" y="396.35" width="21.57" height="13.62" fill="#FBE4E2"/>
<rect x="228.93" y="396.35" width="21.57" height="13.62" fill="#FBE2E0"/>
<rect x="58.80" y="409.67" width="21.57" height="13.62" fill="#FADAD8"/>
<rect x="80.07" y="409.67" width="21.57" height="13.62" fill="#EA5656"/>
<rect x="101.33" y="409.67" width="21.57" height="13.62" fill="#F29E9E"/>
<rect x="122.60" y="409.67" width="21.57" height="13.62" fill="#E43030"/>
<rect x="143.87" y="409.67" width="21.57" height="13.62" fill="#EE7E7E"/>
<rect x="165.13" y="409.67" width="21.57" height="13.62" fill="#FBE0DE"/>
<rect x="186.40" y="409.67" width="21.57" height="13.62" fill="#FBE0DE"/>
<rect x="207.67" y="409.67" width="21.57" height="13.62" fill="#FAD8D6"/>
<rect x="228.93" y="409.67" width="21.57" height="13.62" fill="#FAD6D4"/>
<rect x="58.80" y="422.98" width="21.57" height="13.62" fill="#FEF4F3"/>
<rect x="80.07" y="422.98" width="21.57" height="13.62" fill="#EC6A6A"/>
<rect x="101.33" y="422.98" width="21.57" height="13.62" fill="#EE7878"/>
<rect x="122.60" y="422.98" width="21.57" height="13.62" fill="#ED7070"/>
<rect x="143.87" y="422.98" width="21.57" height="13.62" fill="#F19090"/>
<rect x="165.13" y="422.98" width="21.57" height="13.62" fill="#FEF2F1"/>
<rect x="186.40" y="422.98" width="21.57" height="13.62" fill="#FEF2F1"/>
<rect x="207.67" y="422.98" width="21.57" height="13.62" fill="#FCEAE8"/>
<rect x="228.93" y="422.98" width="21.57" height="13.62" fill="#FCE8E6"/>
<rect x="58.80" y="356.40" width="191.40" height="79.90" fill="none" stroke="#231F20" stroke-width="0.85"/>
<line x1="58.80" y1="396.35" x2="250.20" y2="396.35" stroke="#231F20" stroke-width="0.85"/>
<line x1="80.07" y1="356.40" x2="80.07" y2="490.40" stroke="#231F20" stroke-width="0.8"/>
<line x1="122.60" y1="356.40" x2="122.60" y2="490.40" stroke="#231F20" stroke-width="0.8"/>
<line x1="165.13" y1="356.40" x2="165.13" y2="490.40" stroke="#231F20" stroke-width="0.8"/>
<line x1="207.67" y1="356.40" x2="207.67" y2="490.40" stroke="#231F20" stroke-width="0.8"/>
<line x1="55.60" y1="363.06" x2="58.80" y2="363.06" stroke="#231F20" stroke-width="0.7"/>
<text x="52.40" y="365.96" font-size="8.3" text-anchor="end" textLength="33.30" lengthAdjust="spacingAndGlyphs">Control 1</text>
<line x1="55.60" y1="376.38" x2="58.80" y2="376.38" stroke="#231F20" stroke-width="0.7"/>
<text x="52.40" y="379.27" font-size="8.3" text-anchor="end" textLength="33.30" lengthAdjust="spacingAndGlyphs">Control 2</text>
<line x1="55.60" y1="389.69" x2="58.80" y2="389.69" stroke="#231F20" stroke-width="0.7"/>
<text x="52.40" y="392.59" font-size="8.3" text-anchor="end" textLength="33.30" lengthAdjust="spacingAndGlyphs">Control 3</text>
<line x1="55.60" y1="403.01" x2="58.80" y2="403.01" stroke="#231F20" stroke-width="0.7"/>
<text x="52.4" y="405.91" font-size="8.3" text-anchor="end" textLength="34.5" lengthAdjust="spacingAndGlyphs"><tspan font-style="italic">Trsp</tspan> KO 1</text>
<line x1="55.60" y1="416.32" x2="58.80" y2="416.32" stroke="#231F20" stroke-width="0.7"/>
<text x="52.4" y="419.22" font-size="8.3" text-anchor="end" textLength="34.5" lengthAdjust="spacingAndGlyphs"><tspan font-style="italic">Trsp</tspan> KO 2</text>
<line x1="55.60" y1="429.64" x2="58.80" y2="429.64" stroke="#231F20" stroke-width="0.7"/>
<text x="52.4" y="432.54" font-size="8.3" text-anchor="end" textLength="34.5" lengthAdjust="spacingAndGlyphs"><tspan font-style="italic">Trsp</tspan> KO 3</text>
<text x="72.13" y="440.30" font-size="8.3" text-anchor="end" textLength="23.60" lengthAdjust="spacingAndGlyphs" transform="rotate(-90 72.13 440.30)">DMSO</text>
<text x="93.40" y="440.30" font-size="8.3" text-anchor="end" textLength="38.40" lengthAdjust="spacingAndGlyphs" transform="rotate(-90 93.40 440.30)">Fer-1 1 µM</text>
<text x="114.67" y="440.30" font-size="8.3" text-anchor="end" textLength="38.40" lengthAdjust="spacingAndGlyphs" transform="rotate(-90 114.67 440.30)">Fer-1 5 µM</text>
<text x="135.93" y="440.30" font-size="8.3" text-anchor="end" textLength="44.80" lengthAdjust="spacingAndGlyphs" transform="rotate(-90 135.93 440.30)">α-Toc 1 mM</text>
<text x="157.20" y="440.30" font-size="8.3" text-anchor="end" textLength="44.80" lengthAdjust="spacingAndGlyphs" transform="rotate(-90 157.20 440.30)">α-Toc 2 mM</text>
<text x="178.47" y="440.30" font-size="8.3" text-anchor="end" textLength="43.80" lengthAdjust="spacingAndGlyphs" transform="rotate(-90 178.47 440.30)">zVAD 25 µM</text>
<text x="199.73" y="440.30" font-size="8.3" text-anchor="end" textLength="43.80" lengthAdjust="spacingAndGlyphs" transform="rotate(-90 199.73 440.30)">zVAD 50 µM</text>
<text x="221.00" y="440.30" font-size="8.3" text-anchor="end" textLength="48.30" lengthAdjust="spacingAndGlyphs" transform="rotate(-90 221.00 440.30)">Nec-1s 50 µM</text>
<text x="242.27" y="440.30" font-size="8.3" text-anchor="end" textLength="53.40" lengthAdjust="spacingAndGlyphs" transform="rotate(-90 242.27 440.30)">Nec-1s 100 µM</text>
<line x1="82.30" y1="497.50" x2="164.00" y2="497.50" stroke="#231F20" stroke-width="0.8"/>
<line x1="167.00" y1="497.50" x2="205.80" y2="497.50" stroke="#231F20" stroke-width="0.8"/>
<line x1="209.20" y1="497.50" x2="250.40" y2="497.50" stroke="#231F20" stroke-width="0.8"/>
<text x="46.30" y="507.60" font-size="7.8" textLength="31.70" lengthAdjust="spacingAndGlyphs">Inhibitor:</text>
<text x="122.30" y="507.60" font-size="7.8" text-anchor="middle" textLength="40.20" lengthAdjust="spacingAndGlyphs">Ferroptosis</text>
<text x="184.90" y="507.60" font-size="7.8" text-anchor="middle" textLength="35.60" lengthAdjust="spacingAndGlyphs">Apoptosis</text>
<text x="226.00" y="507.60" font-size="7.8" text-anchor="middle" textLength="42.30" lengthAdjust="spacingAndGlyphs">Necroptosis</text>
<defs><linearGradient id="cb" x1="0" y1="0" x2="0" y2="1"><stop offset="0" stop-color="#E01414"/><stop offset="0.5" stop-color="#F08A88"/><stop offset="1" stop-color="#FFFFFF"/></linearGradient></defs>
<rect x="259.30" y="356.40" width="11.50" height="79.90" fill="url(#cb)" stroke="#231F20" stroke-width="0.7"/>
<line x1="268.60" y1="357.50" x2="270.80" y2="357.50" stroke="#231F20" stroke-width="0.6"/>
<line x1="259.30" y1="357.50" x2="261.50" y2="357.50" stroke="#231F20" stroke-width="0.6"/>
<text x="273.50" y="360.50" font-size="8.4" textLength="12.60" lengthAdjust="spacingAndGlyphs">250</text>
<line x1="268.60" y1="373.16" x2="270.80" y2="373.16" stroke="#231F20" stroke-width="0.6"/>
<line x1="259.30" y1="373.16" x2="261.50" y2="373.16" stroke="#231F20" stroke-width="0.6"/>
<text x="273.50" y="376.16" font-size="8.4" textLength="12.60" lengthAdjust="spacingAndGlyphs">200</text>
<line x1="268.60" y1="388.82" x2="270.80" y2="388.82" stroke="#231F20" stroke-width="0.6"/>
<line x1="259.30" y1="388.82" x2="261.50" y2="388.82" stroke="#231F20" stroke-width="0.6"/>
<text x="273.50" y="391.82" font-size="8.4" textLength="12.60" lengthAdjust="spacingAndGlyphs">150</text>
<line x1="268.60" y1="404.48" x2="270.80" y2="404.48" stroke="#231F20" stroke-width="0.6"/>
<line x1="259.30" y1="404.48" x2="261.50" y2="404.48" stroke="#231F20" stroke-width="0.6"/>
<text x="273.50" y="407.48" font-size="8.4" textLength="12.60" lengthAdjust="spacingAndGlyphs">100</text>
<line x1="268.60" y1="420.14" x2="270.80" y2="420.14" stroke="#231F20" stroke-width="0.6"/>
<line x1="259.30" y1="420.14" x2="261.50" y2="420.14" stroke="#231F20" stroke-width="0.6"/>
<text x="273.50" y="423.14" font-size="8.4" textLength="8.40" lengthAdjust="spacingAndGlyphs">50</text>
<line x1="268.60" y1="435.80" x2="270.80" y2="435.80" stroke="#231F20" stroke-width="0.6"/>
<line x1="259.30" y1="435.80" x2="261.50" y2="435.80" stroke="#231F20" stroke-width="0.6"/>
<text x="273.50" y="438.80" font-size="8.4" textLength="4.20" lengthAdjust="spacingAndGlyphs">0</text>
<text x="302.60" y="339.90" font-size="10.9" fill="#0A0A0A" textLength="5.90" lengthAdjust="spacingAndGlyphs" font-weight="bold">F</text>
<line x1="340.00" y1="349.10" x2="340.00" y2="436.50" stroke="#231F20" stroke-width="1.0"/>
<line x1="340.00" y1="436.00" x2="427.20" y2="436.00" stroke="#231F20" stroke-width="1.0"/>
<line x1="337.00" y1="351.50" x2="340.00" y2="351.50" stroke="#231F20" stroke-width="0.9"/>
<text x="334.70" y="354.55" font-size="8.6" text-anchor="end" textLength="9.00" lengthAdjust="spacingAndGlyphs">50</text>
<line x1="337.00" y1="368.40" x2="340.00" y2="368.40" stroke="#231F20" stroke-width="0.9"/>
<text x="334.70" y="371.45" font-size="8.6" text-anchor="end" textLength="9.00" lengthAdjust="spacingAndGlyphs">40</text>
<line x1="337.00" y1="385.30" x2="340.00" y2="385.30" stroke="#231F20" stroke-width="0.9"/>
<text x="334.70" y="388.35" font-size="8.6" text-anchor="end" textLength="9.00" lengthAdjust="spacingAndGlyphs">30</text>
<line x1="337.00" y1="402.20" x2="340.00" y2="402.20" stroke="#231F20" stroke-width="0.9"/>
<text x="334.70" y="405.25" font-size="8.6" text-anchor="end" textLength="9.00" lengthAdjust="spacingAndGlyphs">20</text>
<line x1="337.00" y1="419.10" x2="340.00" y2="419.10" stroke="#231F20" stroke-width="0.9"/>
<text x="334.70" y="422.15" font-size="8.6" text-anchor="end" textLength="9.00" lengthAdjust="spacingAndGlyphs">10</text>
<line x1="337.00" y1="436.00" x2="340.00" y2="436.00" stroke="#231F20" stroke-width="0.9"/>
<text x="334.70" y="439.05" font-size="8.6" text-anchor="end" textLength="4.50" lengthAdjust="spacingAndGlyphs">0</text>
<rect x="343.25" y="396.20" width="7.30" height="39.80" fill="#E3877A"/>
<line x1="346.90" y1="436.00" x2="346.90" y2="439.20" stroke="#231F20" stroke-width="0.9"/>
<rect x="355.95" y="380.70" width="7.30" height="55.30" fill="#E3877A"/>
<line x1="359.60" y1="436.00" x2="359.60" y2="439.20" stroke="#231F20" stroke-width="0.9"/>
<rect x="368.95" y="396.80" width="7.30" height="39.20" fill="#E3877A"/>
<line x1="372.60" y1="436.00" x2="372.60" y2="439.20" stroke="#231F20" stroke-width="0.9"/>
<rect x="402.05" y="396.90" width="7.30" height="39.10" fill="#B5D7F2"/>
<line x1="405.70" y1="436.00" x2="405.70" y2="439.20" stroke="#231F20" stroke-width="0.9"/>
<rect x="414.45" y="405.60" width="7.30" height="30.40" fill="#B5D7F2"/>
<line x1="418.10" y1="436.00" x2="418.10" y2="439.20" stroke="#231F20" stroke-width="0.9"/>
<line x1="391.70" y1="436.00" x2="391.70" y2="439.20" stroke="#231F20" stroke-width="0.9"/>
<line x1="346.90" y1="391.00" x2="346.90" y2="402.00" stroke="#6A2530" stroke-width="0.6"/>
<line x1="345.20" y1="391.00" x2="348.60" y2="391.00" stroke="#6A2530" stroke-width="0.6"/>
<line x1="345.20" y1="402.00" x2="348.60" y2="402.00" stroke="#6A2530" stroke-width="0.6"/>
<line x1="359.60" y1="371.00" x2="359.60" y2="390.00" stroke="#6A2530" stroke-width="0.6"/>
<line x1="357.90" y1="371.00" x2="361.30" y2="371.00" stroke="#6A2530" stroke-width="0.6"/>
<line x1="357.90" y1="390.00" x2="361.30" y2="390.00" stroke="#6A2530" stroke-width="0.6"/>
<line x1="372.60" y1="393.00" x2="372.60" y2="400.00" stroke="#6A2530" stroke-width="0.6"/>
<line x1="370.90" y1="393.00" x2="374.30" y2="393.00" stroke="#6A2530" stroke-width="0.6"/>
<line x1="370.90" y1="400.00" x2="374.30" y2="400.00" stroke="#6A2530" stroke-width="0.6"/>
<circle cx="346.60" cy="390.00" r="1.25" fill="#74101E" stroke="#540A14" stroke-width="0.5"/>
<circle cx="346.60" cy="397.90" r="1.25" fill="#74101E" stroke="#540A14" stroke-width="0.5"/>
<circle cx="346.80" cy="400.30" r="1.25" fill="#74101E" stroke="#540A14" stroke-width="0.5"/>
<circle cx="359.50" cy="370.90" r="1.25" fill="#74101E" stroke="#540A14" stroke-width="0.5"/>
<circle cx="359.50" cy="382.30" r="1.25" fill="#74101E" stroke="#540A14" stroke-width="0.5"/>
<circle cx="359.60" cy="387.50" r="1.25" fill="#74101E" stroke="#540A14" stroke-width="0.5"/>
<circle cx="372.70" cy="392.70" r="1.25" fill="#74101E" stroke="#540A14" stroke-width="0.5"/>
<circle cx="370.70" cy="397.90" r="1.25" fill="#74101E" stroke="#540A14" stroke-width="0.5"/>
<circle cx="374.40" cy="396.80" r="1.25" fill="#74101E" stroke="#540A14" stroke-width="0.5"/>
<line x1="405.70" y1="374.70" x2="405.70" y2="415.20" stroke="#2A4A60" stroke-width="0.6"/>
<line x1="404.00" y1="374.70" x2="407.40" y2="374.70" stroke="#2A4A60" stroke-width="0.6"/>
<line x1="404.00" y1="415.20" x2="407.40" y2="415.20" stroke="#2A4A60" stroke-width="0.6"/>
<line x1="418.10" y1="400.30" x2="418.10" y2="410.70" stroke="#2A4A60" stroke-width="0.6"/>
<line x1="416.40" y1="400.30" x2="419.80" y2="400.30" stroke="#2A4A60" stroke-width="0.6"/>
<line x1="416.40" y1="410.70" x2="419.80" y2="410.70" stroke="#2A4A60" stroke-width="0.6"/>
<circle cx="405.20" cy="374.70" r="1.15" fill="#86B6D8" stroke="#1E4F70" stroke-width="0.7"/>
<circle cx="405.20" cy="401.30" r="1.15" fill="#86B6D8" stroke="#1E4F70" stroke-width="0.7"/>
<circle cx="405.20" cy="415.20" r="1.15" fill="#86B6D8" stroke="#1E4F70" stroke-width="0.7"/>
<circle cx="418.40" cy="399.60" r="1.15" fill="#86B6D8" stroke="#1E4F70" stroke-width="0.7"/>
<circle cx="416.60" cy="409.00" r="1.15" fill="#86B6D8" stroke="#1E4F70" stroke-width="0.7"/>
<circle cx="420.00" cy="407.20" r="1.15" fill="#86B6D8" stroke="#1E4F70" stroke-width="0.7"/>
<circle cx="390.60" cy="435.50" r="1.15" fill="#86B6D8" stroke="#1E4F70" stroke-width="0.7"/>
<circle cx="392.60" cy="435.10" r="1.15" fill="#86B6D8" stroke="#1E4F70" stroke-width="0.7"/>
<path d="M392.50,355.40 V349.60 H418.20 V397.90" stroke="#231F20" stroke-width="0.6" fill="none"/>
<text x="405.40" y="348.50" font-size="9.5" text-anchor="middle" textLength="10.60" lengthAdjust="spacingAndGlyphs">***</text>
<path d="M392.50,432.50 V362.50 H405.50 V367.50" stroke="#231F20" stroke-width="0.6" fill="none"/>
<text x="399.00" y="361.40" font-size="9.5" text-anchor="middle" textLength="3.60" lengthAdjust="spacingAndGlyphs">*</text>
<text x="319.40" y="392.50" font-size="8.5" text-anchor="middle" fill="#2B2728" textLength="31.80" lengthAdjust="spacingAndGlyphs" transform="rotate(-90 319.40 392.50)" style="stroke:#2B2728;stroke-width:0.1px"># colonies</text>
<text x="351.40" y="447.10" font-size="8.3" text-anchor="end" textLength="24.30" lengthAdjust="spacingAndGlyphs" transform="rotate(-45 351.40 447.10)">DMSO</text>
<text x="364.10" y="447.10" font-size="8.3" text-anchor="end" textLength="18.80" lengthAdjust="spacingAndGlyphs" transform="rotate(-45 364.10 447.10)">Fer-1</text>
<text x="377.10" y="447.10" font-size="8.3" text-anchor="end" textLength="21.80" lengthAdjust="spacingAndGlyphs" transform="rotate(-45 377.10 447.10)">α-Toc</text>
<text x="396.20" y="447.10" font-size="8.3" text-anchor="end" textLength="24.30" lengthAdjust="spacingAndGlyphs" transform="rotate(-45 396.20 447.10)">DMSO</text>
<text x="410.20" y="447.10" font-size="8.3" text-anchor="end" textLength="18.80" lengthAdjust="spacingAndGlyphs" transform="rotate(-45 410.20 447.10)">Fer-1</text>
<text x="422.60" y="447.10" font-size="8.3" text-anchor="end" textLength="21.80" lengthAdjust="spacingAndGlyphs" transform="rotate(-45 422.60 447.10)">α-Toc</text>
<rect x="428.00" y="349.50" width="6.00" height="6.00" fill="#C41230"/>
<text x="437.80" y="354.70" font-size="7.8" textLength="24.40" lengthAdjust="spacingAndGlyphs">Control</text>
<rect x="428.00" y="360.60" width="6.00" height="6.00" fill="#41A9E1"/>
<text x="437.8" y="366.1" font-size="7.8" textLength="27.8" lengthAdjust="spacingAndGlyphs"><tspan font-style="italic">Trsp</tspan> KO</text>
</svg>
</body></html>
